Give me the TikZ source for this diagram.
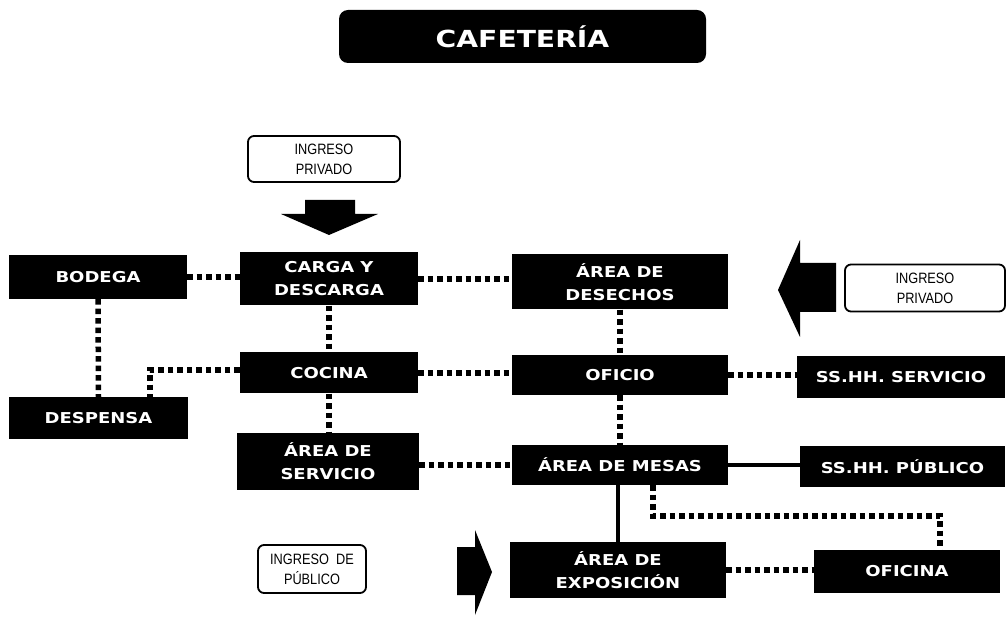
\documentclass[tikz,border=0pt]{standalone}
\usepackage{fontspec}
\newfontfamily\boxfont[FakeStretch=1.2]{DejaVu Sans}
\newfontfamily\ingfont[FakeStretch=0.85]{Liberation Sans}
\begin{document}
\begin{tikzpicture}[x=1pt,y=-1pt,
  blk/.style={fill=black,text=white,inner sep=0pt,align=center,
    font=\boxfont\bfseries\fontsize{15}{23}\selectfont},
  ing/.style={draw=black,line width=1.8pt,rounded corners=6pt,fill=white,inner sep=0pt,align=center,
    font=\ingfont\fontsize{15}{20}\selectfont},
  dots/.style={line width=5.5pt,dash pattern=on 5.5pt off 4pt},
  solid line/.style={line width=4pt},
  bigarrow/.style={fill=black}]
\useasboundingbox (0,0) rectangle (1007,617);
% title
\node[blk,rounded corners=9pt,minimum width=367pt,minimum height=53pt,
  font=\boxfont\bfseries\fontsize{23.5}{27}\selectfont] (title) at (522.5,36.5) {CAFETERÍA};
% entries
\node[ing,minimum width=152pt,minimum height=46pt] (ip1) at (324,159) {INGRESO\\PRIVADO};
\node[ing,minimum width=160pt,minimum height=47pt] (ip2) at (925,288) {INGRESO\\PRIVADO};
\node[ing,minimum width=108pt,minimum height=48pt] (ip3) at (312,569) {INGRESO\ \ DE\\PÚBLICO};
% boxes
\node[blk,minimum width=178pt,minimum height=44pt] (bodega) at (98,277) {BODEGA};
\node[blk,minimum width=178pt,minimum height=53pt] (carga) at (329,279) {CARGA Y\\DESCARGA};
\node[blk,minimum width=216pt,minimum height=55pt] (desechos) at (620,282) {ÁREA DE\\DESECHOS};
\node[blk,minimum width=178pt,minimum height=41pt] (cocina) at (329,373) {COCINA};
\node[blk,minimum width=216pt,minimum height=40pt] (oficio) at (620,375) {OFICIO};
\node[blk,minimum width=208pt,minimum height=42pt] (sserv) at (901,377) {SS.HH. SERVICIO};
\node[blk,minimum width=179pt,minimum height=42pt] (despensa) at (98.5,418) {DESPENSA};
\node[blk,minimum width=182pt,minimum height=57pt] (servicio) at (328,461.5) {ÁREA DE\\SERVICIO};
\node[blk,minimum width=216pt,minimum height=40pt] (mesas) at (620,465) {ÁREA DE MESAS};
\node[blk,minimum width=205pt,minimum height=41pt] (spub) at (902.5,466.5) {SS.HH. PÚBLICO};
\node[blk,minimum width=216pt,minimum height=56pt] (expo) at (618,570) {ÁREA DE\\EXPOSICIÓN};
\node[blk,minimum width=186pt,minimum height=43pt] (oficina) at (907,571.5) {OFICINA};
% arrows
\fill[bigarrow] (305,200) -- (355,200) -- (355,214) -- (378,214) -- (329,235) -- (281,214) -- (305,214) -- cycle;
\fill[bigarrow] (778,290) -- (800,240) -- (800,263) -- (836,263) -- (836,312) -- (800,312) -- (800,337) -- cycle;
\fill[bigarrow] (457,547) -- (475,547) -- (475,530) -- (492,572) -- (475,615) -- (475,595) -- (457,595) -- cycle;
% connectors
\draw[dots] (bodega.east) -- (carga.west |- bodega.east);
\draw[dots] (carga.east) -- (desechos.west |- carga.east);
\draw[dots] (bodega.south) -- (despensa.north);
\draw[dots] (carga.south) -- (cocina.north);
\coordinate (cl) at (150,370);
\draw[dots] (cocina.west |- cl) -- (cl) -- (cl |- despensa.north);
\draw[dots] (cocina.east) -- (oficio.west |- cocina.east);
\draw[dots] (cocina.south) -- (servicio.north -| cocina.south);
\draw[dots] (desechos.south) -- (oficio.north);
\draw[dots] (oficio.east) -- (sserv.west |- oficio.east);
\draw[dots] (oficio.south) -- (mesas.north);
\draw[dots] (servicio.east |- mesas.west) -- (mesas.west);
\draw[solid line] (mesas.east) -- (spub.west |- mesas.east);
\draw[solid line] (mesas.south -| expo.north) -- (expo.north);
\coordinate (m1) at (653,516);
\coordinate (m2) at (940,516);
\draw[dots] (m1 |- mesas.south) -- (m1) -- (m2) -- (m2 |- oficina.north);
\draw[dots] (expo.east) -- (oficina.west |- expo.east);
\end{tikzpicture}
\end{document}
